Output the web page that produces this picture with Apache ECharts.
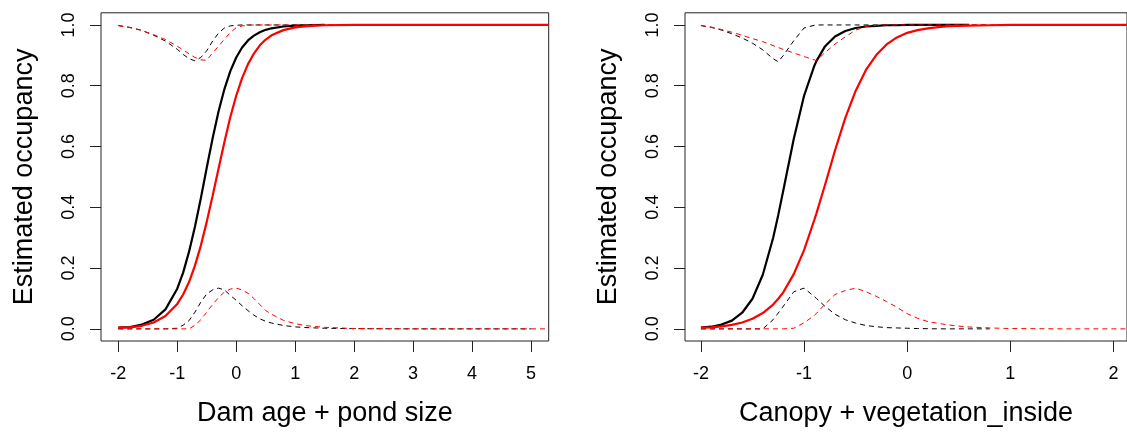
<!DOCTYPE html>
<html>
<head>
<meta charset="utf-8">
<script src="https://cdn.jsdelivr.net/npm/echarts@6/dist/echarts.min.js"></script>
<style>
html,body{margin:0;padding:0;background:#fff;}
#chart{width:1127px;height:432px;}
</style>
</head>
<body>
<div id="chart"></div>
<script>
// ---------- Left panel: Dam age + pond size ----------
const L_X = [-2.0,-1.8,-1.6,-1.4,-1.2,-1.0,-0.9,-0.8,-0.7,-0.6,-0.5,-0.4,-0.3,-0.2,-0.1,0.0,0.1,0.2,0.3,0.4,0.5,0.6,0.8,1.0,1.2,1.5,2.0,3.0,4.0,5.0,5.3];
const L_blackSolid = [0.004,0.006,0.014,0.030,0.064,0.132,0.185,0.254,0.336,0.430,0.530,0.627,0.715,0.789,0.848,0.893,0.926,0.949,0.965,0.976,0.984,0.989,0.995,0.998,0.999,1.0,null,null,null,null,null];
const L_redSolid = [0.004,0.005,0.010,0.021,0.042,0.082,0.113,0.154,0.208,0.274,0.352,0.438,0.527,0.615,0.697,0.767,0.825,0.871,0.906,0.933,0.952,0.966,0.983,0.992,0.996,0.999,1,1,1,1,1];
const L_blackLow = [0,0,0,0,0,0.002,0.012,0.027,0.055,0.088,0.115,0.128,0.134,0.128,0.110,0.094,0.076,0.060,0.045,0.033,0.025,0.019,0.011,0.0065,0.004,0.002,0.0005,0,0,0,null];
const L_redLow = [0,0,0,0,0,0,0,0,0.012,0.030,0.055,0.080,0.103,0.121,0.131,0.134,0.128,0.117,0.100,0.080,0.060,0.048,0.028,0.017,0.010,0.005,0.001,0,0,0,0];
const L_blackUp = [0.998,0.992,0.982,0.966,0.947,0.920,0.903,0.889,0.882,0.893,0.915,0.947,0.973,0.990,0.997,0.999,1,1,1,1,1,1,1,1,1,1,1,1,1,1,null];
const L_redUp = [0.998,0.991,0.982,0.968,0.952,0.930,0.918,0.905,0.893,0.885,0.884,0.908,0.930,0.953,0.975,0.991,0.997,0.999,1,1,1,1,1,1,1,1,1,1,1,1,1];

// ---------- Right panel: Canopy + vegetation_inside ----------
const R_X = [-2.0,-1.9,-1.8,-1.7,-1.6,-1.5,-1.4,-1.3,-1.25,-1.2,-1.1,-1.0,-0.9,-0.88,-0.8,-0.7,-0.6,-0.5,-0.4,-0.3,-0.2,-0.1,0.0,0.1,0.2,0.3,0.4,0.5,0.6,0.8,1.0,1.5,2.0,2.2];
const R_blackSolid = [0.004,0.007,0.014,0.027,0.053,0.099,0.178,0.299,0.375,0.458,0.625,0.767,0.866,0.881,0.928,0.962,0.980,0.990,0.995,0.997,0.999,0.999,1,1,1,1,1,1,1,null,null,null,null,null];
const R_redSolid = [0.004,0.005,0.008,0.013,0.021,0.033,0.052,0.080,0.099,0.121,0.180,0.259,0.359,0.380,0.470,0.587,0.694,0.783,0.852,0.901,0.936,0.959,0.974,0.983,0.989,0.993,0.996,0.997,0.998,0.999,1,1,1,1];
const R_blackLow = [0,0,0,0,0,0,0,0.030,0.052,0.075,0.122,0.134,0.106,0.100,0.075,0.048,0.030,0.019,0.011,0.007,0.004,0.003,0.002,0.001,0.0005,0,0,0,0,0,null,null,null,null];
const R_redLow = [0,0,0,0,0,0,0,0,0,0,0.002,0.020,0.044,0.051,0.080,0.113,0.126,0.134,0.122,0.107,0.090,0.071,0.050,0.035,0.024,0.018,0.013,0.009,0.006,0.003,0.001,0,0,0];
const R_blackUp = [0.998,0.992,0.983,0.971,0.957,0.940,0.918,0.889,0.879,0.900,0.948,0.990,0.999,1,1,1,1,1,1,1,1,1,1,1,1,1,1,1,1,1,null,null,null,null];
const R_redUp = [0.998,0.993,0.985,0.976,0.966,0.955,0.945,0.932,0.926,0.919,0.908,0.896,0.885,0.883,0.908,0.937,0.961,0.983,0.995,0.999,1,1,1,1,1,1,1,1,1,1,1,1,1,1];

// ---------- Ticks and titles ----------
const L_xTicks = [-2,-1,0,1,2,3,4,5];
const R_xTicks = [-2,-1,0,1,2];
const yTicks = [0,0.2,0.4,0.6,0.8,1.0];
const yTitle = 'Estimated occupancy';
const L_xTitle = 'Dam age + pond size';
const R_xTitle = 'Canopy + vegetation_inside';

const FONT = '"Liberation Sans", Arial, sans-serif';
const BLACK = '#000000';
const RED = '#ff0000';

function pairs(xs, ys) { return xs.map((x, i) => [x, ys[i]]); }

function xAxisCfg(gridIndex, min, max, ticks, title) {
  return {
    type: 'value', gridIndex, min, max, name: title, position: 'bottom',
    nameLocation: 'middle', nameGap: 59,
    nameTextStyle: { fontSize: 27, color: BLACK, fontFamily: FONT },
    axisLine: { show: false, onZero: false },
    axisTick: { show: true, length: 11, customValues: ticks, lineStyle: { color: '#222', width: 1 } },
    axisLabel: { customValues: ticks, fontSize: 18, color: BLACK, fontFamily: FONT, margin: 24,
      formatter: v => String(Math.round(v)) },
    splitLine: { show: false }
  };
}
function yAxisCfg(gridIndex) {
  return {
    type: 'value', gridIndex, min: -0.04, max: 1.04, name: yTitle, position: 'left',
    nameLocation: 'middle', nameGap: 63, nameRotate: 90,
    nameTextStyle: { fontSize: 27, color: BLACK, fontFamily: FONT },
    axisLine: { show: false, onZero: false },
    axisTick: { show: true, length: 11, customValues: yTicks, lineStyle: { color: '#222', width: 1 } },
    axisLabel: { customValues: yTicks, rotate: 90, fontSize: 18, color: BLACK, fontFamily: FONT, margin: 23,
      formatter: v => v.toFixed(1) },
    splitLine: { show: false }
  };
}
function line(name, xi, xs, ys, color, dashed) {
  return {
    name, type: 'line', xAxisIndex: xi, yAxisIndex: xi,
    data: pairs(xs, ys), symbol: 'none', showSymbol: false, clip: true,
    connectNulls: false,
    lineStyle: dashed ? { color, width: 1, type: [5, 4] } : { color, width: 2.2 },
    emphasis: { disabled: true }
  };
}

const chart = echarts.init(document.getElementById('chart'), null, { renderer: 'canvas' });
chart.setOption({
  animation: false,
  backgroundColor: '#ffffff',
  textStyle: { fontFamily: FONT },
  grid: [
    { left: 101, top: 12.8, width: 447.7, height: 328.4, show: true, borderColor: '#222', borderWidth: 1, backgroundColor: 'transparent', containLabel: false },
    { left: 685, top: 12.8, width: 444, height: 328.4, show: true, borderColor: '#222', borderWidth: 1, backgroundColor: 'transparent', containLabel: false }
  ],
  xAxis: [
    xAxisCfg(0, -2.2934, 5.300, L_xTicks, L_xTitle),
    xAxisCfg(1, -2.1544, 2.1313, R_xTicks, R_xTitle)
  ],
  yAxis: [ yAxisCfg(0), yAxisCfg(1) ],
  series: [
    line('L black solid', 0, L_X, L_blackSolid, BLACK, false),
    line('L black lower', 0, L_X, L_blackLow, BLACK, true),
    line('L black upper', 0, L_X, L_blackUp, BLACK, true),
    line('L red solid', 0, L_X, L_redSolid, RED, false),
    line('L red lower', 0, L_X, L_redLow, RED, true),
    line('L red upper', 0, L_X, L_redUp, RED, true),
    line('R black solid', 1, R_X, R_blackSolid, BLACK, false),
    line('R black lower', 1, R_X, R_blackLow, BLACK, true),
    line('R black upper', 1, R_X, R_blackUp, BLACK, true),
    line('R red solid', 1, R_X, R_redSolid, RED, false),
    line('R red lower', 1, R_X, R_redLow, RED, true),
    line('R red upper', 1, R_X, R_redUp, RED, true)
  ]
});
</script>
</body>
</html>
